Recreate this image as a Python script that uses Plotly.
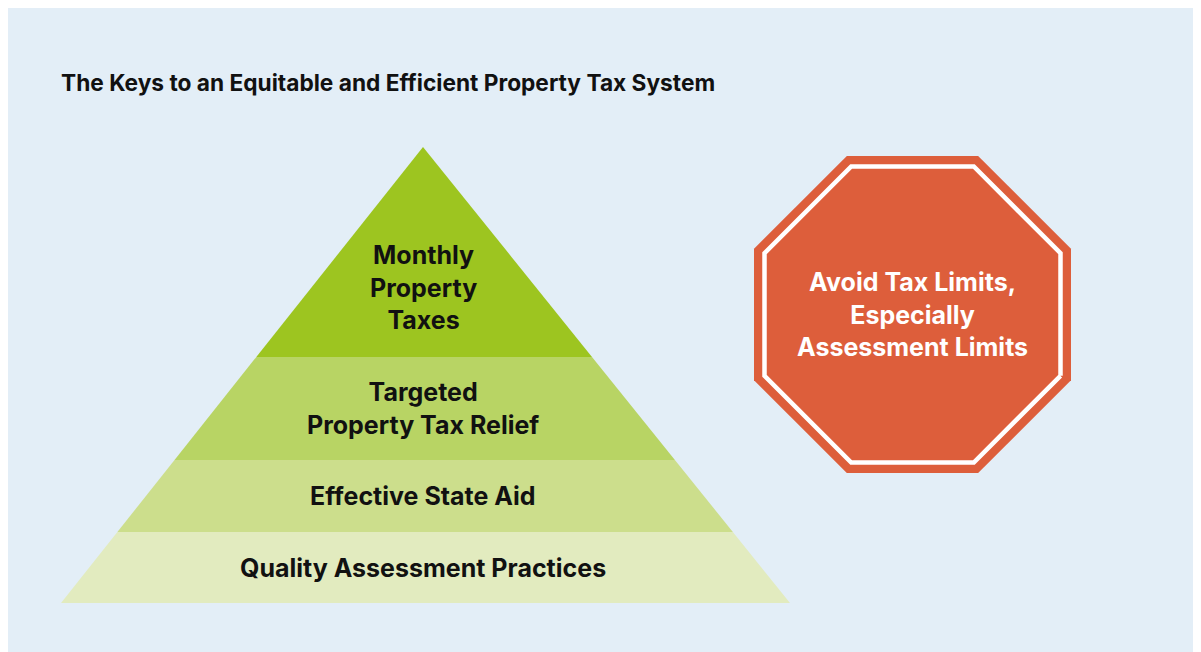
import numpy as np
import plotly.graph_objects as go

# ---- data ----
title_text = "The Keys to an Equitable and Efficient Property Tax System"
layer_labels = ["Monthly<br>Property<br>Taxes", "Targeted<br>Property Tax Relief",
                "Effective State Aid", "Quality Assessment Practices"]
layer_colors = ["#9DC520", "#B8D464", "#CCDE8C", "#E2EBBF"]
# layer bottom boundaries as fraction of pyramid height (from apex)
layer_bottoms = [0.4605, 0.6864, 0.8443, 1.0]
stop_label = "Avoid Tax Limits,<br>Especially<br>Assessment Limits"

# ---- geometry (figure coordinates, page offset of 8px removed) ----
OX, OY = 8, 8
W, H = 1193, 645
apex = (423 - OX, 147 - OY)
base_y = 603 - OY
base_left, base_right = 61 - OX, 790 - OX
FONT = "Inter"

fig = go.Figure()

def edge_x(frac):
    l = apex[0] + (base_left - apex[0]) * frac
    r = apex[0] + (base_right - apex[0]) * frac
    return l, r

ph = base_y - apex[1]
prev = 0.0
for lab, col, fb in zip(layer_labels, layer_colors, layer_bottoms):
    lt, rt = edge_x(prev)
    lb, rb = edge_x(fb)
    yt = apex[1] + ph * prev
    yb = apex[1] + ph * fb
    fig.add_trace(go.Scatter(x=[lt, rt, rb, lb, lt], y=[yt, yt, yb, yb, yt],
                             fill="toself", fillcolor=col, mode="lines",
                             line=dict(width=0, color=col), hoverinfo="skip",
                             showlegend=False))
    cy = (yt + yb) / 2
    if prev == 0.0:
        cy = yt + (yb - yt) * 0.67
    fig.add_annotation(x=apex[0], y=cy, text=lab, showarrow=False,
                       font=dict(family=FONT, size=25, color="#111111", weight="bold"),
                       xanchor="center", yanchor="middle")
    prev = fb

# octagon
cx, cy = 912.5 - OX, 314.5 - OY
apo = 158.5
ang = np.deg2rad(22.5 + 45 * np.arange(9))
R = apo / np.cos(np.deg2rad(22.5))
fig.add_trace(go.Scatter(x=cx + R * np.cos(ang), y=cy + R * np.sin(ang),
                         fill="toself", fillcolor="#DD5E3B", mode="lines",
                         line=dict(width=0, color="#DD5E3B"), hoverinfo="skip",
                         showlegend=False))
R2 = (apo - 10.5) / np.cos(np.deg2rad(22.5))
fig.add_trace(go.Scatter(x=cx + R2 * np.cos(ang), y=cy + R2 * np.sin(ang),
                         mode="lines", line=dict(width=4.5, color="white"),
                         hoverinfo="skip", showlegend=False))
fig.add_annotation(x=cx, y=cy, text=stop_label, showarrow=False,
                   font=dict(family=FONT, size=25, color="white", weight="bold"),
                   xanchor="center", yanchor="middle")

fig.add_annotation(x=59 - OX, y=82 - OY, text=title_text, showarrow=False,
                   font=dict(family=FONT, size=22.7, color="#111111", weight="bold"),
                   xanchor="left", yanchor="middle")

fig.update_layout(
    width=W, height=H, margin=dict(l=0, r=0, t=0, b=0),
    paper_bgcolor="#E3EEF7", plot_bgcolor="#E3EEF7",
    xaxis=dict(range=[0, W], visible=False, fixedrange=True),
    yaxis=dict(range=[H, 0], visible=False, fixedrange=True),
)
fig.write_html("out.html")
